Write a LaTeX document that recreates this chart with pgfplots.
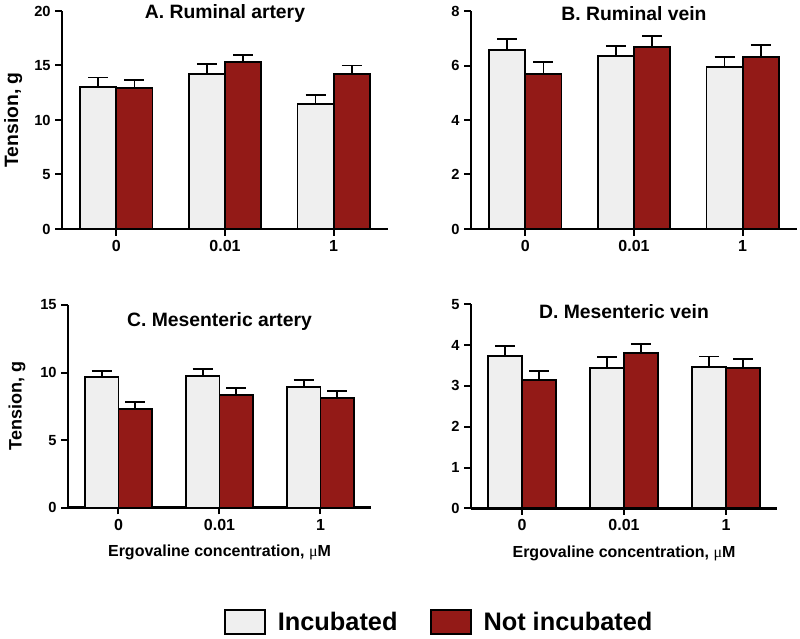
\documentclass[border=0pt]{standalone}
\usepackage{pgfplots}
\pgfplotsset{compat=1.18}
\usepackage{fontspec}
\setmainfont{Liberation Sans}
\newfontfamily\serifmu{Liberation Serif}
\definecolor{incgray}{RGB}{239,239,239}
\definecolor{notred}{RGB}{147,26,23}
\pgfplotsset{
  /pgfplots/ybar legend/.style={/pgfplots/legend image code/.code={\draw[##1,line width=1.5pt] (0pt,-9pt) rectangle (30pt,9pt);}},
  panel/.style={
    scale only axis,
    anchor=south west,
    ybar,
    bar width=0.333,
    axis lines=left,
    axis line style={-, line width=1.8pt},
    xmin=-0.5, xmax=2.5,
    ymin=0,
    xtick={0,1,2},
    xticklabels={0,0.01,1},
    tick align=outside,
    major tick length=5pt,
    tick style={line width=1.5pt, black},
    /pgf/number format/assume math mode=true,
    x tick label style={font=\bfseries\fontsize{12}{14}\selectfont},
    y tick label style={font=\bfseries\fontsize{11}{13}\selectfont},
    title style={anchor=center, font=\bfseries\fontsize{14.5}{16}\selectfont},
    ylabel style={anchor=center, font=\bfseries\fontsize{14.5}{16}\selectfont},
    xlabel style={anchor=center, font=\bfseries\fontsize{12}{14}\selectfont},
    error bars/y dir=plus,
    error bars/y explicit,
    error bars/error bar style={line width=1.4pt, black},
    error bars/error mark options={line width=1.4pt, black, mark size=7.5pt, rotate=90},
  },
  incb/.style={fill=incgray, draw=black, line width=1.4pt, bar shift=-0.1667},
  notb/.style={fill=notred, draw=black, line width=1.4pt, bar shift=0.1667},
}
\begin{document}
\begin{tikzpicture}
\useasboundingbox (0,0) rectangle (600pt,479.25pt);
% A
\begin{axis}[panel, at={(46.5pt,307.5pt)}, width=244.5pt, height=163.5pt,
  ymax=20, ytick={0,5,10,15,20},
  title={A. Ruminal artery}, title style={at={(axis description cs:0.5,0.950)}},
  ylabel={Tension, g}, ylabel style={at={(axis description cs:-0.15,0.5)}}]
\addplot[incb] coordinates {(0,13.05) +- (0,0.85) (1,14.22) +- (0,0.88) (2,11.5) +- (0,0.8)};
\addplot[notb] coordinates {(0,12.9) +- (0,0.77) (1,15.3) +- (0,0.7) (2,14.2) +- (0,0.8)};
\end{axis}
% B
\begin{axis}[panel, at={(353.25pt,307.5pt)}, width=244.5pt, height=163.5pt,
  ymax=8, ytick={0,2,4,6,8},
  title={B. Ruminal vein}, title style={at={(axis description cs:0.5,0.950)}}]
\addplot[incb] coordinates {(0,6.58) +- (0,0.38) (1,6.35) +- (0,0.37) (2,5.96) +- (0,0.34)};
\addplot[notb] coordinates {(0,5.70) +- (0,0.42) (1,6.69) +- (0,0.40) (2,6.32) +- (0,0.43)};
\end{axis}
% C
\begin{axis}[panel, at={(51pt,98.5pt)}, width=227.25pt, height=152pt,
  ymax=15, ytick={0,5,10,15},
  title={C. Mesenteric artery}, title style={at={(axis description cs:0.5,0.877)}},
  ylabel={Tension, g}, ylabel style={at={(axis description cs:-0.168,0.5)}, font=\bfseries\fontsize{13.5}{15}\selectfont},
  xlabel={Ergovaline concentration, {\mdseries\serifmu μ}M}, xlabel style={at={(axis description cs:0.5,-0.223)}},
  legend columns=2,
  legend style={draw=none, fill=none, at={(1.226,-0.564)}, anchor=center,
    font=\bfseries\fontsize{19}{21}\selectfont,
    /tikz/every even column/.append style={column sep=22pt},
    /tikz/every odd column/.append style={column sep=7pt}}]
\addplot[incb] coordinates {(0,9.65) +- (0,0.49) (1,9.77) +- (0,0.47) (2,8.93) +- (0,0.52)};
\addplot[notb] coordinates {(0,7.28) +- (0,0.52) (1,8.34) +- (0,0.54) (2,8.12) +- (0,0.52)};
\legend{Incubated, Not incubated}
\end{axis}
% D
\begin{axis}[panel, at={(353.25pt,98pt)}, width=229.5pt, height=153pt,
  ymax=5, ytick={0,1,2,3,4,5},
  title={D. Mesenteric vein}, title style={at={(axis description cs:0.5,0.925)}},
  xlabel={Ergovaline concentration, {\mdseries\serifmu μ}M}, xlabel style={at={(axis description cs:0.5,-0.22)}}]
\addplot[incb] coordinates {(0,3.73) +- (0,0.25) (1,3.44) +- (0,0.26) (2,3.46) +- (0,0.26)};
\addplot[notb] coordinates {(0,3.15) +- (0,0.22) (1,3.80) +- (0,0.23) (2,3.43) +- (0,0.22)};
\end{axis}
\end{tikzpicture}
\end{document}
